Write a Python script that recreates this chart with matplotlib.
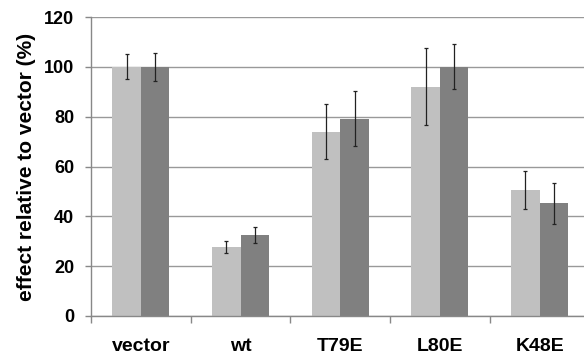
import matplotlib.pyplot as plt
import numpy as np

# data
categories = ['vector', 'wt', 'T79E', 'L80E', 'K48E']
light_vals = [100, 27.8, 74.0, 92.0, 50.7]
light_err = [5.0, 2.4, 11.0, 15.4, 7.6]
dark_vals = [100, 32.4, 79.2, 100, 45.3]
dark_err = [5.5, 3.2, 11.0, 9.0, 8.2]

plt.rcParams['font.family'] = ['Liberation Sans', 'DejaVu Sans']
plt.rcParams['font.weight'] = 'bold'

fig = plt.figure(figsize=(5.84, 3.54), dpi=100)
ax = fig.add_axes([91/584, 38/354, 498.5/584, 299/354])

x = np.arange(len(categories))
w = 0.286
ekw = dict(elinewidth=0.9, capsize=1.6, capthick=0.9, ecolor='#222222')
ax.bar(x - w/2, light_vals, w, yerr=light_err, color='#c0c0c0',
       error_kw=ekw, zorder=2)
ax.bar(x + w/2, dark_vals, w, yerr=dark_err, color='#808080',
       error_kw=ekw, zorder=2)

ax.set_xlim(-0.5, len(categories) - 0.5)
ax.set_ylim(0, 120)
ax.set_yticks(np.arange(0, 121, 20))
ax.yaxis.grid(True, color='#999999', linewidth=1.0, zorder=0)
ax.set_axisbelow(True)

ax.set_xticks(x)
ax.set_xticklabels(categories, fontsize=14, fontweight='bold')
ax.set_xticks(np.arange(-0.5, len(categories)), minor=True)
ax.tick_params(axis='x', which='major', length=0, pad=16)
ax.tick_params(axis='x', which='minor', length=5, color='#888888', width=1)
ax.tick_params(axis='y', length=4, color='#888888', width=1, labelsize=13, pad=8)
for lab in ax.get_yticklabels():
    lab.set_fontweight('bold')

for s in ['top', 'right']:
    ax.spines[s].set_visible(False)
for s in ['left', 'bottom']:
    ax.spines[s].set_color('#888888')
    ax.spines[s].set_linewidth(1)

ax.set_ylabel('effect relative to vector (%)', fontsize=15, fontweight='bold', labelpad=6)

fig.savefig('out.png', dpi=100)
